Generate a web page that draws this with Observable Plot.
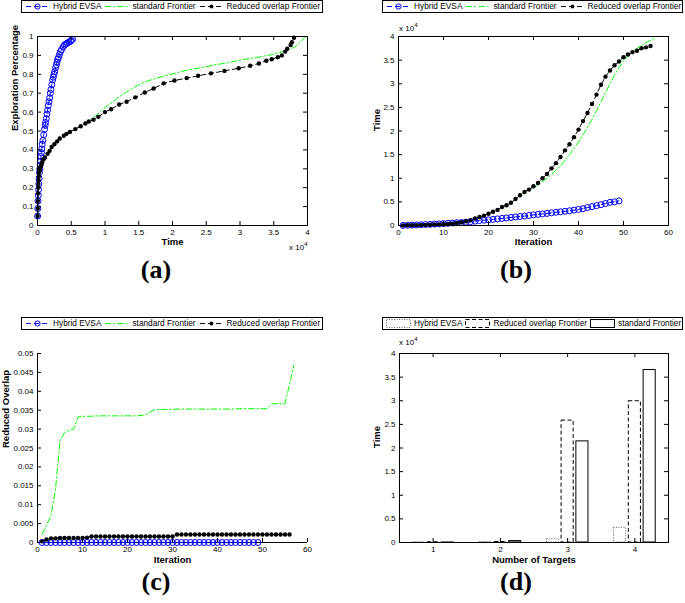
<!DOCTYPE html>
<html>
<head>
<meta charset="utf-8">
<script src="https://cdn.jsdelivr.net/npm/d3@7"></script>
<script src="https://cdn.jsdelivr.net/npm/@observablehq/plot@0.6"></script>
<style>
html,body{margin:0;padding:0;background:#fff;}
body{position:relative;width:685px;height:603px;overflow:hidden;font-family:"Liberation Sans",Arial,sans-serif;}
.panel{position:absolute;}
.legend{position:absolute;box-sizing:border-box;height:13px;border:1px solid #000;background:#fff;overflow:visible;white-space:nowrap;display:flex;align-items:center;font-size:8.3px;line-height:11px;color:#000;}
.legend svg{flex:none;display:block;margin-left:3px;}
.legend span{flex:none;margin-left:3px;}
.plabel{position:absolute;font-family:"Liberation Serif","Times New Roman",serif;font-weight:bold;font-size:26px;line-height:0.95;transform:translateX(-50%);}
.mult{position:absolute;font-size:8px;line-height:1;white-space:nowrap;}
.mult sup{font-size:6px;vertical-align:0;position:relative;top:-4px;}
</style>
</head>
<body>
<script>
// ---------------- DATA ----------------
const seriesNames = ["Hybrid EVSA", "standard Frontier", "Reduced overlap Frontier"];
const barSeriesNames = ["Hybrid EVSA", "Reduced overlap Frontier", "standard Frontier"];
const panelLabels = ["(a)", "(b)", "(c)", "(d)"];

// time (per iteration) — panel (b), also x of panel (a)
const hybridTime = [20,50,80,120,160,200,240,290,340,400,460,520,580,640,700,800,920,1050,1130,1200,
  1300,1400,1500,1600,1700,1800,1900,2000,2120,2250,2350,2450,2550,2680,2800,2900,3000,3120,3250,3400,
  3550,3800,4000,4200,4400,4650,4900,5000,5200];
const standardTime = [20,40,60,80,100,130,160,200,240,280,350,450,550,700,900,1100,1500,1800,2100,2500,
  2900,3300,3900,4300,4800,5600,6400,7100,7600,8000,8600,9300,10000,10800,11700,12700,13800,15000,16300,17700,
  19200,20800,22500,24300,26200,28100,30000,31800,33400,34800,35900,36800,37500,38100,38700,39200,39700];
const reducedTime = [20,40,60,80,100,130,160,200,240,280,350,450,550,700,900,1100,1500,1800,2100,2500,
  2900,3300,3900,4300,4800,5600,6400,7100,7600,8300,9000,10000,10900,12100,13200,14500,15900,17200,18700,20300,
  22100,23800,25700,27700,29800,31500,32800,33900,34700,35600,36200,36700,37000,37500,37700,38000];

// exploration percentage — panel (a)
const hybridExplore = [0.05,0.09,0.13,0.16,0.19,0.22,0.25,0.28,0.30,0.32,0.34,0.365,0.385,0.405,0.43,0.45,0.48,0.51,0.53,0.545,
  0.565,0.59,0.61,0.635,0.655,0.675,0.70,0.72,0.745,0.77,0.785,0.80,0.815,0.835,0.85,0.865,0.88,0.89,0.905,0.92,
  0.93,0.945,0.955,0.96,0.965,0.97,0.975,0.98,0.985];
const standardExplore = [0.05,0.09,0.13,0.17,0.20,0.22,0.24,0.26,0.28,0.29,0.30,0.31,0.32,0.335,0.35,0.36,0.38,0.395,0.415,0.43,
  0.445,0.46,0.475,0.485,0.495,0.51,0.525,0.54,0.55,0.565,0.58,0.60,0.625,0.645,0.67,0.695,0.72,0.745,0.765,0.78,
  0.795,0.81,0.825,0.835,0.85,0.86,0.875,0.885,0.895,0.905,0.915,0.925,0.935,0.945,0.96,0.98,1.0];
const reducedExplore = [0.05,0.09,0.13,0.17,0.20,0.22,0.24,0.26,0.28,0.29,0.30,0.31,0.32,0.335,0.35,0.36,0.38,0.395,0.415,0.43,
  0.445,0.46,0.475,0.485,0.495,0.51,0.525,0.54,0.55,0.56,0.575,0.60,0.615,0.64,0.655,0.678,0.704,0.725,0.752,0.767,
  0.78,0.792,0.805,0.818,0.832,0.845,0.857,0.872,0.88,0.89,0.90,0.92,0.935,0.955,0.97,0.993];

// reduced overlap — panel (c)
const hybridOverlap = Array(49).fill(0);
const standardOverlap = [0.0022,0.0045,0.0072,0.014,0.027,0.029,0.0297,0.030,0.0332,0.0334,
  0.0334,0.0334,0.0335,0.0335,0.0335,0.0335,0.0335,0.0335,0.0335,0.0335,0.0335,0.0335,0.0336,0.0338,0.0345,0.0351,
  0.0352,0.0352,0.0352,0.0352,0.0353,0.0353,0.0353,0.0353,0.0353,0.0353,0.0353,0.0353,0.0353,0.0353,
  0.0353,0.0353,0.0353,0.0353,0.0354,0.0354,0.0354,0.0354,0.0354,0.0354,0.0354,
  0.0367,0.0367,0.0367,0.0368,0.0418,0.0469];
const reducedOverlap = [0.0003,0.0008,0.0011,0.0011,0.0012,0.0012,0.0012,0.0012,0.0012,0.0012,0.0013,
  0.0016,0.0016,0.0016,0.0016,0.0016,0.0016,0.0016,0.0016,0.0016,0.0016,0.0016,0.0016,0.0016,0.0016,0.0016,0.0016,0.0016,0.0016,0.0016,
  0.0021,0.0021,0.0021,0.0021,0.0021,0.0021,0.0021,0.0021,0.0021,0.0021,0.0021,0.0021,0.0021,
  0.0021,0.0021,0.0021,0.0021,0.0021,0.0021,0.0021,0.0021,0.0021,0.0021,0.0021,0.0021,0.0021];

// bars — panel (d)
const targets = [1, 2, 3, 4];
const hybridBar = [5, 80, 700, 3100];
const reducedBar = [5, 120, 25800, 29900];
const standardBar = [5, 300, 21400, 36500];

// tick values
const timeTicks = [0,5000,10000,15000,20000,25000,30000,35000,40000];
const exploreTicks = [0,0.1,0.2,0.3,0.4,0.5,0.6,0.7,0.8,0.9,1];
const iterTicks = [0,10,20,30,40,50,60];
const overlapTicks = [0,0.005,0.01,0.015,0.02,0.025,0.03,0.035,0.04,0.045,0.05];
const targetTicks = [1,2,3,4];

// ---------------- STYLE ----------------
const BLUE = "#0000ff", GREEN = "#00ff00", BLACK = "#000000";
const DASH = "5,3", DASHDOT = "6,2.5,1.5,2.5";
const FONT = "Liberation Sans, Arial, sans-serif";
const baseStyle = {background: "transparent", overflow: "visible", fontFamily: FONT, fontSize: "8px", color: "#000"};

const fmtNum = d => String(+d.toFixed(4));
const fmt1e4 = d => String(+(d / 1e4).toFixed(2));

function inwardTicks(xt, yt, iw, ih, sides, L = 4) {
  const m = [];
  if (sides.includes("b")) m.push(Plot.tickX(xt, {x: d => d, insetTop: ih - L, stroke: "#000"}));
  if (sides.includes("t")) m.push(Plot.tickX(xt, {x: d => d, insetBottom: ih - L, stroke: "#000"}));
  if (sides.includes("l")) m.push(Plot.tickY(yt, {y: d => d, insetRight: iw - L, stroke: "#000"}));
  if (sides.includes("r")) m.push(Plot.tickY(yt, {y: d => d, insetLeft: iw - L, stroke: "#000"}));
  return m;
}
function titles(xLabel, yLabel, xdy, ydx) {
  return [
    Plot.text([xLabel], {frameAnchor: "bottom", dy: xdy, fontWeight: "bold", fontSize: 9.5, fill: "#000"}),
    Plot.text([yLabel], {frameAnchor: "left", rotate: -90, dx: ydx, fontWeight: "bold", fontSize: 9.5, fill: "#000"})
  ];
}
function seriesMarks(h, s, r) {
  return [
    Plot.line(h, {x: "x", y: "y", stroke: BLUE, strokeWidth: 1, strokeDasharray: DASH}),
    Plot.dot(h, {x: "x", y: "y", r: 3, stroke: BLUE, strokeWidth: 1, fill: "none"}),
    Plot.line(s, {x: "x", y: "y", stroke: GREEN, strokeWidth: 1, strokeDasharray: DASHDOT}),
    Plot.line(r, {x: "x", y: "y", stroke: BLACK, strokeWidth: 1, strokeDasharray: DASH}),
    Plot.dot(r, {x: "x", y: "y", r: 2.2, fill: BLACK, stroke: "none"})
  ];
}
function place(el, left, top) {
  const d = document.createElement("div");
  d.className = "panel"; d.style.left = left + "px"; d.style.top = top + "px";
  d.appendChild(el); document.body.appendChild(d);
}
function addText(cls, html, left, top) {
  const d = document.createElement("div");
  d.className = cls; d.innerHTML = html; d.style.left = left + "px"; d.style.top = top + "px";
  document.body.appendChild(d);
}
const pairs = (xs, ys) => ys.map((y, i) => ({x: xs[i], y}));
const iterPairs = ys => ys.map((y, i) => ({x: i + 1, y}));

// ---------------- PANEL A ----------------
place(Plot.plot({
  width: 340, height: 260, marginTop: 36, marginRight: 33, marginBottom: 35, marginLeft: 37,
  style: baseStyle,
  x: {domain: [0, 40000]}, y: {domain: [0, 1]},
  marks: [
    ...seriesMarks(pairs(hybridTime, hybridExplore), pairs(standardTime, standardExplore), pairs(reducedTime, reducedExplore)),
    Plot.frame({stroke: "#000"}),
    ...inwardTicks(timeTicks, exploreTicks, 270, 189, "btlr"),
    Plot.axisX({ticks: timeTicks, tickSize: 0, tickPadding: 4, tickFormat: fmt1e4, label: null}),
    Plot.axisY({ticks: exploreTicks, tickSize: 0, tickPadding: 4, tickFormat: fmtNum, label: null}),
    ...titles("Time", "Exploration Percentage", 19.5, -22.5)
  ]
}), 0, 0);

// ---------------- PANEL B ----------------
place(Plot.plot({
  width: 345, height: 260, marginTop: 36, marginRight: 17, marginBottom: 35, marginLeft: 58,
  style: baseStyle,
  x: {domain: [0, 60]}, y: {domain: [0, 40000]},
  marks: [
    ...seriesMarks(iterPairs(hybridTime), iterPairs(standardTime), iterPairs(reducedTime)),
    Plot.frame({stroke: "#000"}),
    ...inwardTicks(iterTicks, timeTicks, 270, 189, "btlr"),
    Plot.axisX({ticks: iterTicks, tickSize: 0, tickPadding: 4, tickFormat: fmtNum, label: null}),
    Plot.axisY({ticks: timeTicks, tickSize: 0, tickPadding: 4, tickFormat: fmt1e4, label: null}),
    ...titles("Iteration", "Time", 19.5, -22)
  ]
}), 340, 0);

// ---------------- PANEL C ----------------
place(Plot.plot({
  width: 340, height: 260, marginTop: 48, marginRight: 33, marginBottom: 23, marginLeft: 37,
  style: baseStyle,
  x: {domain: [0, 60]}, y: {domain: [0, 0.05]},
  marks: [
    Plot.ruleY([0], {stroke: "#000"}),
    Plot.ruleX([0], {stroke: "#000"}),
    ...inwardTicks(iterTicks, overlapTicks, 270, 189, "bl"),
    ...seriesMarks(iterPairs(hybridOverlap), iterPairs(standardOverlap), iterPairs(reducedOverlap)),
    Plot.axisX({ticks: iterTicks, tickSize: 0, tickPadding: 4, tickFormat: fmtNum, label: null}),
    Plot.axisY({ticks: overlapTicks, tickSize: 0, tickPadding: 4, tickFormat: fmtNum, label: null}),
    ...titles("Iteration", "Reduced Overlap", 20.5, -31.5)
  ]
}), 0, 305);

// ---------------- PANEL D ----------------
const barOffsets = [-0.22, 0, 0.22], barWidth = 0.18;
const barStyles = [
  {values: hybridBar, stroke: "#666", dash: "1,1.5"},
  {values: reducedBar, stroke: "#000", dash: "4,2.5"},
  {values: standardBar, stroke: "#000", dash: null}
];
place(Plot.plot({
  width: 345, height: 260, marginTop: 48, marginRight: 17, marginBottom: 23, marginLeft: 59,
  style: baseStyle,
  x: {domain: [0.5, 4.5]}, y: {domain: [0, 40000]},
  marks: [
    ...barStyles.map((s, k) => Plot.rect(targets.map((t, i) => ({t, v: s.values[i]})), {
      x1: d => d.t + barOffsets[k] - barWidth / 2, x2: d => d.t + barOffsets[k] + barWidth / 2,
      y1: 0, y2: "v", fill: "#fff", stroke: s.stroke, strokeWidth: 1, strokeDasharray: s.dash
    })),
    Plot.frame({stroke: "#000"}),
    ...inwardTicks(targetTicks, timeTicks, 269, 189, "btlr"),
    Plot.axisX({ticks: targetTicks, tickSize: 0, tickPadding: 4, tickFormat: fmtNum, label: null}),
    Plot.axisY({ticks: timeTicks, tickSize: 0, tickPadding: 4, tickFormat: fmt1e4, label: null}),
    ...titles("Number of Targets", "Time", 20.5, -22.7)
  ]
}), 340, 305);

// ---------------- LEGENDS ----------------
const lineLegend = [
  {label: seriesNames[0], color: BLUE, dash: DASH, marker: "circle"},
  {label: seriesNames[1], color: GREEN, dash: DASHDOT, marker: null},
  {label: seriesNames[2], color: BLACK, dash: DASH, marker: "dot"}
];
const barLegend = [
  {label: barSeriesNames[0], stroke: "#666", dash: "1,1.5"},
  {label: barSeriesNames[1], stroke: "#000", dash: "4,2.5"},
  {label: barSeriesNames[2], stroke: "#000", dash: null}
];
function makeLegend(left, top, width, items, kind) {
  const box = d3.select("body").append("div").attr("class", "legend")
    .style("left", left + "px").style("top", top + "px").style("width", width + "px");
  for (const it of items) {
    const svg = box.append("svg").attr("width", 25).attr("height", 11);
    if (kind === "line") {
      svg.append("line").attr("x1", 1).attr("x2", 24).attr("y1", 5.5).attr("y2", 5.5)
        .attr("stroke", it.color).attr("stroke-dasharray", it.dash);
      if (it.marker === "circle") svg.append("circle").attr("cx", 12.5).attr("cy", 5.5).attr("r", 2.6)
        .attr("fill", "none").attr("stroke", it.color);
      if (it.marker === "dot") svg.append("circle").attr("cx", 12.5).attr("cy", 5.5).attr("r", 1.9).attr("fill", it.color);
    } else {
      svg.append("rect").attr("x", 0.5).attr("y", 1.5).attr("width", 24).attr("height", 8)
        .attr("fill", "#fff").attr("stroke", it.stroke).attr("stroke-dasharray", it.dash);
    }
    box.append("span").text(it.label);
  }
}
makeLegend(21, 0, 302, lineLegend, "line");
makeLegend(382, 0, 301, lineLegend, "line");
makeLegend(21, 317, 302, lineLegend, "line");
makeLegend(382, 317, 301, barLegend, "bar");

// ---------------- ANNOTATIONS ----------------
addText("mult", "x 10<sup>4</sup>", 289, 244);
addText("mult", "x 10<sup>4</sup>", 399, 25);
addText("mult", "x 10<sup>4</sup>", 399, 339);
addText("plabel", panelLabels[0], 156, 258);
addText("plabel", panelLabels[1], 516, 258);
addText("plabel", panelLabels[2], 156, 570);
addText("plabel", panelLabels[3], 516, 570);
</script>
</body>
</html>
